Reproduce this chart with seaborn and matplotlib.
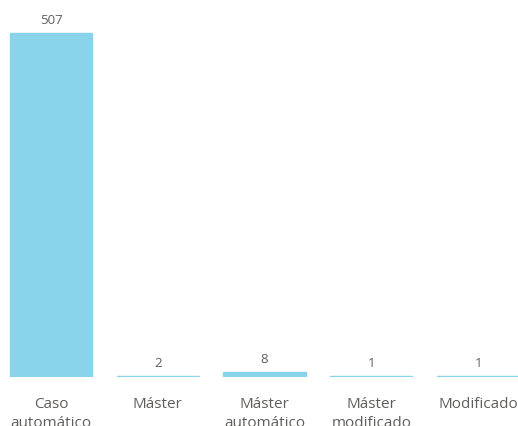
import matplotlib
matplotlib.use("Agg")
import matplotlib.pyplot as plt
import seaborn as sns
import pandas as pd

categories = ["Caso\nautomático", "Máster", "Máster\nautomático", "Máster\nmodificado", "Modificado"]
values = [507, 2, 8, 1, 1]

df = pd.DataFrame({"categoria": categories, "total": values})

sns.set_theme(style="white")
plt.rcParams["font.family"] = ["Open Sans", "DejaVu Sans"]

fig = plt.figure(figsize=(5.18, 4.27), dpi=100)
ax = fig.add_axes([0.0, 49 / 427, 1.0, 378 / 427])

sns.barplot(data=df, x="categoria", y="total", color="#8AD4EB", saturation=1,
            width=0.77, edgecolor="#8AD4EB", linewidth=1.0, ax=ax)

ax.set_xlim(-0.478, 4.374)
ax.set_ylim(0, 557)

for i, v in enumerate(values):
    ax.annotate(str(v), (i, v), xytext=(0, 5), textcoords="offset points",
                ha="center", va="bottom", fontsize=9.5, color="#605E5C")

ax.set_xlabel("")
ax.set_ylabel("")
ax.set_yticks([])
ax.tick_params(axis="x", length=0, pad=14, labelsize=11, labelcolor="#605E5C")
for lbl in ax.get_xticklabels():
    lbl.set_linespacing(1.3)
for s in ax.spines.values():
    s.set_visible(False)

fig.savefig("out.png", dpi=100)
